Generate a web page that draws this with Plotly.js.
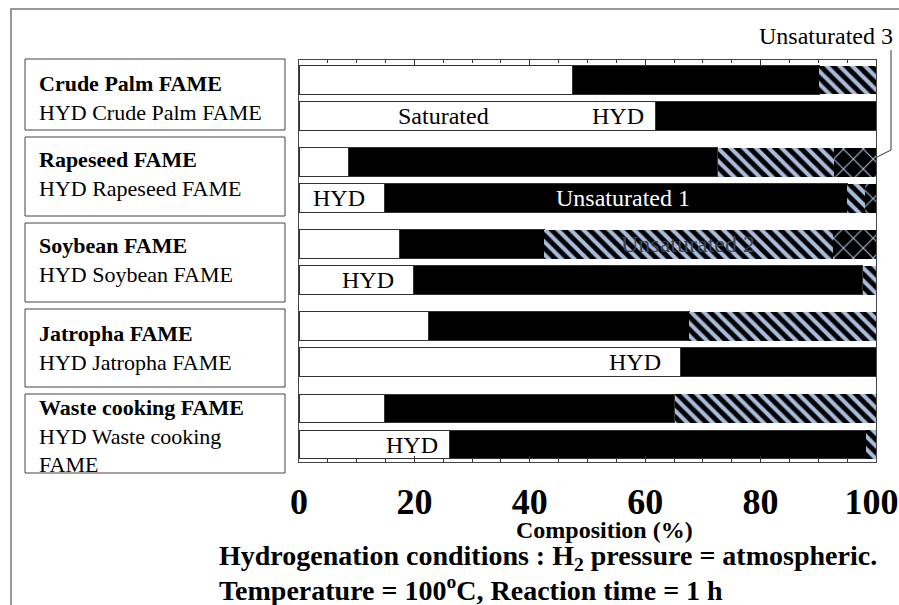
<!DOCTYPE html>
<html>
<head>
<meta charset="utf-8">
<script src="https://cdn.plot.ly/plotly-3.0.1.min.js"></script>
<style>html,body{margin:0;padding:0;background:#fff;}#chart{width:899px;height:605px;}</style>
</head>
<body>
<div id="chart"></div>
<script>
// ---- data ----
const groups = ["Crude Palm", "Rapeseed", "Soybean", "Jatropha", "Waste cooking"];
const rowNames = [
  "Crude Palm FAME", "HYD Crude Palm FAME",
  "Rapeseed FAME", "HYD Rapeseed FAME",
  "Soybean FAME", "HYD Soybean FAME",
  "Jatropha FAME", "HYD Jatropha FAME",
  "Waste cooking FAME", "HYD Waste cooking FAME"
];
const saturated    = [47.4, 61.8,  8.6, 14.8, 17.4, 19.8, 22.4, 66.1, 14.8, 26.1];
const unsaturated1 = [42.8, 38.2, 64.0, 80.2, 25.1, 77.9, 45.2, 33.9, 50.3, 72.2];
const unsaturated2 = [ 9.8,  0.0, 20.1,  3.1, 50.1,  2.3, 32.4,  0.0, 34.9,  1.7];
const unsaturated3 = [ 0.0,  0.0,  7.3,  1.9,  7.4,  0.0,  0.0,  0.0,  0.0,  0.0];
const xTicks = [0, 20, 40, 60, 80, 100];
const xTickText = ["0", "20", "40", "60", "80", "100\u00a0"];

// ---- layout helpers ----
const W = 899, H = 605;
const L = 299, R = 876, T = 60, B = 462;
const px = p => (p - L) / (R - L);
const py = p => (B - p) / (B - T);
const PAIR = 2.28;
const yPos = rowNames.map((_, i) => Math.floor(i / 2) * PAIR + (i % 2));

const serif = "Liberation Serif, Times New Roman, serif";
const outline = {color: '#333', width: 1};
const stripe = '#a8bcdc';

const traces = [
  {name: 'Saturated', x: saturated, y: yPos, type: 'bar', orientation: 'h',
   marker: {color: '#ffffff', line: outline}},
  {name: 'Unsaturated 1', x: unsaturated1, y: yPos, type: 'bar', orientation: 'h',
   marker: {color: '#000000', line: outline}},
  {name: 'Unsaturated 2', x: unsaturated2, y: yPos, type: 'bar', orientation: 'h',
   marker: {color: '#000000', line: {color: '#000', width: 0},
     pattern: {shape: '\\', fillmode: 'replace', bgcolor: '#000000', fgcolor: stripe, size: 9, solidity: 0.45}}},
  {name: 'Unsaturated 3', x: unsaturated3, y: yPos, type: 'bar', orientation: 'h',
   marker: {color: '#000000', line: {color: '#000', width: 0},
     pattern: {shape: 'x', fillmode: 'replace', bgcolor: '#000000', fgcolor: stripe, size: 14, solidity: 0.15}}}
];

// left label boxes
const boxes = [[59, 130], [137, 216], [223, 302], [309, 387], [394, 473]];
const boxTextY = [97.5, 174, 260, 348, 436];
const shapes = [];
const annotations = [];
boxes.forEach((b, g) => {
  shapes.push({type: 'rect', xref: 'paper', yref: 'paper', x0: px(25), x1: px(285), y0: py(b[0]), y1: py(b[1]),
    line: {color: '#444', width: 1}, fillcolor: 'rgba(0,0,0,0)'});
  let second = rowNames[2 * g + 1];
  if (g === 4) second = "HYD Waste cooking<br>FAME";
  annotations.push({xref: 'paper', yref: 'paper', x: px(37), y: py(boxTextY[g]), xanchor: 'left', yanchor: 'middle',
    align: 'left', showarrow: false, text: '<b>' + rowNames[2 * g] + '</b><br>' + second,
    font: {family: serif, size: 22, color: '#000'}});
});

// outer frame
shapes.push({type: 'path', xref: 'paper', yref: 'paper',
  path: `M ${px(11)} ${py(H)} L ${px(11)} ${py(9)} L ${px(W)} ${py(9)}`,
  line: {color: '#777', width: 1.5}});
// leader line for Unsaturated 3
shapes.push({type: 'path', xref: 'paper', yref: 'paper',
  path: `M ${px(891)} ${py(50)} L ${px(891)} ${py(150)} L ${px(877)} ${py(157)}`,
  line: {color: '#333', width: 1}});

// in-bar labels
const barLbl = (text, x, row, anchor, color) => annotations.push({xref: 'x', yref: 'y', x: x, y: yPos[row],
  xanchor: anchor, yanchor: 'middle', showarrow: false, text: text,
  font: {family: serif, size: 24, color: color || '#000'}});
barLbl('Saturated', 25, 1, 'center');
barLbl('HYD', 60.2, 1, 'right');
barLbl('HYD', 6.9, 3, 'center');
barLbl('Unsaturated 1', 56.1, 3, 'center', '#ffffff');
barLbl('Unsaturated 2', 67.4, 4, 'center', '#3a4458');
barLbl('HYD', 12.0, 5, 'center');
barLbl('HYD', 58.2, 7, 'center');
barLbl('HYD', 19.5, 9, 'center');

annotations.push({xref: 'paper', yref: 'paper', x: px(895), y: py(36), xanchor: 'right', yanchor: 'middle',
  showarrow: false, text: 'Unsaturated 3', font: {family: serif, size: 24, color: '#000'}});
annotations.push({xref: 'paper', yref: 'paper', x: px(604), y: py(530), xanchor: 'center', yanchor: 'middle',
  showarrow: false, text: '<b>Composition (%)</b>', font: {family: serif, size: 24, color: '#000'}});
annotations.push({xref: 'paper', yref: 'paper', x: px(217), y: py(557), xanchor: 'left', yanchor: 'middle',
  showarrow: false, text: '<b>Hydrogenation conditions : H<sub>2</sub> pressure = atmospheric.</b>',
  font: {family: serif, size: 28, color: '#000'}});
annotations.push({xref: 'paper', yref: 'paper', x: px(217), y: py(588), xanchor: 'left', yanchor: 'middle',
  showarrow: false, text: '<b>Temperature = 100<sup>o</sup>C, Reaction time = 1 h</b>',
  font: {family: serif, size: 28, color: '#000'}});

const layout = {
  width: W, height: H,
  margin: {l: L, r: W - R, t: T, b: H - B, pad: 0},
  paper_bgcolor: '#fff', plot_bgcolor: '#fff',
  barmode: 'stack', bargap: 0, showlegend: false,
  xaxis: {range: [0, 100], tickvals: xTicks, ticktext: xTickText,
    ticks: 'inside', ticklen: 6, tickcolor: '#333', tickwidth: 1,
    minor: {dtick: 5, ticks: 'inside', ticklen: 3, tickcolor: '#333', tickwidth: 1},
    showline: true, linecolor: '#444', linewidth: 1, mirror: 'ticks',
    showgrid: false, zeroline: false, ticklabelstandoff: 8, ticklabeloverflow: 'allow',
    tickfont: {family: serif, size: 36, color: '#000', weight: 'bold'}},
  yaxis: {range: [yPos[9] + 0.486, -0.556], showticklabels: false, ticks: '',
    showline: true, linecolor: '#444', linewidth: 1, mirror: true,
    showgrid: false, zeroline: false},
  shapes: shapes,
  annotations: annotations
};
traces.forEach(t => t.width = 0.8);
Plotly.newPlot('chart', traces, layout, {staticPlot: true, displayModeBar: false});
</script>
</body>
</html>
